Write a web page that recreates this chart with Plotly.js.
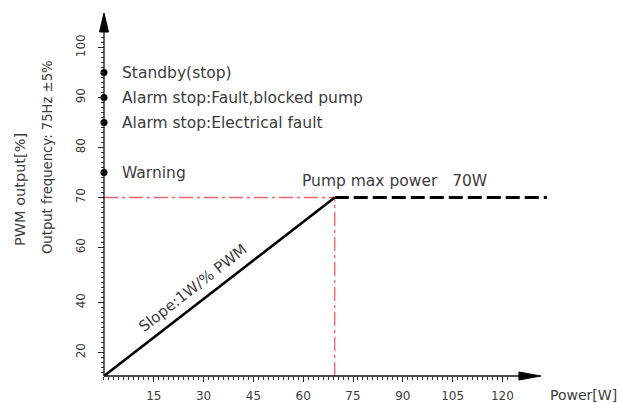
<!DOCTYPE html>
<html>
<head>
<meta charset="utf-8">
<script src="https://cdn.plot.ly/plotly-3.0.1.min.js"></script>
<style>html,body{margin:0;padding:0;background:#fff;}#chart{width:622px;height:403px;}</style>
</head>
<body>
<div id="chart"></div>
<script>
// ---- data ----
const slopePowerW = [0, 69.5];          // Power [W]
const slopePWM = [34.3, 70];            // PWM output [%] (axis drawing scale)
const maxPowerW = 69.5;
const maxPWM = 70;
const capEndPowerW = 133.4;
const axisOriginPWM = 34.3;

const statusPWM = [95, 90, 85, 75];
const statusLabels = [
  'Standby(stop)',
  'Alarm stop:Fault,blocked pump',
  'Alarm stop:Electrical fault',
  'Warning'
];

const xTickVals = [15, 30, 45, 60, 75, 90, 105, 120];
const yTickVals = [39, 49, 60, 70, 80, 90, 100];
const yTickText = ['20', '40', '60', '70', '80', '90', '100'];

// ---- layout constants ----
const xRange = [-3.01, 134.94];
const yRange = [33.3, 107.9];
const xAxisTip = 131.6, yAxisTip = 106.9;
const txt = '#3c3c3c';
const fam = 'DejaVu Sans, sans-serif';

const pxX = v => (v - xRange[0]) / (xRange[1] - xRange[0]);
const pyY = v => (v - yRange[0]) / (yRange[1] - yRange[0]);

const xMinor = [];
for (let v = 0; v <= 122; v += 1.5) xMinor.push(v);
const yMinor = [];
for (let v = 35; v <= 102; v += 1) yMinor.push(v);

const traces = [
  { x: [0, maxPowerW], y: [maxPWM, maxPWM], mode: 'lines',
    line: { color: '#f0606e', width: 1.3, dash: '14px,4px,3px,4px' }, hoverinfo: 'skip' },
  { x: [maxPowerW, maxPowerW], y: [axisOriginPWM, maxPWM], mode: 'lines',
    line: { color: '#f0606e', width: 1.3, dash: '14px,4px,3px,4px' }, hoverinfo: 'skip' },
  { x: slopePowerW, y: slopePWM, mode: 'lines',
    line: { color: '#000', width: 2.6 } },
  { x: [maxPowerW, capEndPowerW], y: [maxPWM, maxPWM], mode: 'lines',
    line: { color: '#000', width: 3, dash: '14px,5px' } },
  { x: statusPWM.map(() => 0), y: statusPWM, mode: 'markers', cliponaxis: false,
    marker: { color: '#000', size: 7 } }
];

const annotations = statusLabels.map((t, i) => ({
  xref: 'x', yref: 'y', x: 0, y: statusPWM[i], text: t, showarrow: false,
  xanchor: 'left', yanchor: 'middle', xshift: 16,
  font: { family: fam, size: 15.5, color: txt }
}));
annotations.push(
  { xref: 'x', yref: 'y', x: maxPowerW, y: maxPWM, text: 'Pump max power\u00a0\u00a0\u00a070W',
    showarrow: false, xanchor: 'left', yanchor: 'middle', xshift: -35, yshift: 17,
    font: { family: fam, size: 15.5, color: txt } },
  { xref: 'x', yref: 'y', x: 26.8, y: 51.9, text: 'Slope:1W/% PWM', showarrow: false,
    textangle: -38, font: { family: fam, size: 15, color: txt } },
  { xref: 'paper', yref: 'paper', x: 0, y: 0.512, xshift: -74, text: 'PWM output[%]', showarrow: false,
    xanchor: 'center', yanchor: 'middle',
    textangle: -90, font: { family: fam, size: 14.5, color: txt } },
  { xref: 'paper', yref: 'paper', x: 0, y: 0.6005, xshift: -47, text: 'Output frequency: 75Hz ±5%', showarrow: false,
    xanchor: 'center', yanchor: 'middle',
    textangle: -90, font: { family: fam, size: 13.2, color: txt } },
  { xref: 'paper', yref: 'paper', x: 1, y: 0, xshift: 67, yshift: -14, text: 'Power[W]', showarrow: false,
    xanchor: 'right', yanchor: 'middle', font: { family: fam, size: 14, color: txt } }
);

const shapes = [
  { type: 'line', xref: 'paper', yref: 'paper', x0: pxX(0), x1: pxX(xAxisTip) - 20 / 458,
    y0: pyY(axisOriginPWM), y1: pyY(axisOriginPWM), line: { color: '#111', width: 1.3 } },
  { type: 'line', xref: 'paper', yref: 'paper', x0: pxX(0), x1: pxX(0),
    y0: pyY(axisOriginPWM), y1: pyY(yAxisTip) - 18 / 373, line: { color: '#111', width: 1.3 } },
  { type: 'path', xref: 'paper', yref: 'paper', xsizemode: 'pixel', ysizemode: 'pixel',
    xanchor: pxX(xAxisTip), yanchor: pyY(axisOriginPWM), path: 'M0,0 L-22,4 L-22,-4 Z',
    fillcolor: '#000', line: { color: '#000', width: 1 } },
  { type: 'path', xref: 'paper', yref: 'paper', xsizemode: 'pixel', ysizemode: 'pixel',
    xanchor: pxX(0), yanchor: pyY(yAxisTip), path: 'M0,0 L-4.5,-19 L4.5,-19 Z',
    fillcolor: '#000', line: { color: '#000', width: 1 } }
];

const layout = {
  width: 622, height: 403,
  margin: { l: 94, r: 70, t: 8, b: 22 },
  paper_bgcolor: '#fff', plot_bgcolor: '#fff',
  showlegend: false,
  font: { family: fam, color: txt },
  xaxis: {
    range: xRange, anchor: 'free', position: pyY(axisOriginPWM),
    showgrid: false, zeroline: false, showline: false,
    tickmode: 'array', tickvals: xTickVals, ticks: 'outside', ticklen: 5, tickwidth: 1, tickcolor: '#222',
    ticklabelstandoff: 4,
    tickfont: { family: fam, size: 12, color: txt },
    minor: { tickmode: 'array', tickvals: xMinor, ticks: 'outside', ticklen: 3, tickwidth: 1, tickcolor: '#333', showgrid: false }
  },
  yaxis: {
    range: yRange, anchor: 'free', position: pxX(0),
    showgrid: false, zeroline: false, showline: false,
    tickmode: 'array', tickvals: yTickVals, ticktext: yTickText, tickangle: -90,
    ticks: 'outside', ticklen: 6, tickwidth: 1, tickcolor: '#222',
    ticklabelstandoff: 8,
    tickfont: { family: fam, size: 12, color: txt },
    minor: { tickmode: 'array', tickvals: yMinor, ticks: 'outside', ticklen: 3, tickwidth: 1, tickcolor: '#333', showgrid: false }
  },
  annotations: annotations,
  shapes: shapes
};

Plotly.newPlot('chart', traces, layout, { staticPlot: true, displayModeBar: false });
</script>
</body>
</html>
